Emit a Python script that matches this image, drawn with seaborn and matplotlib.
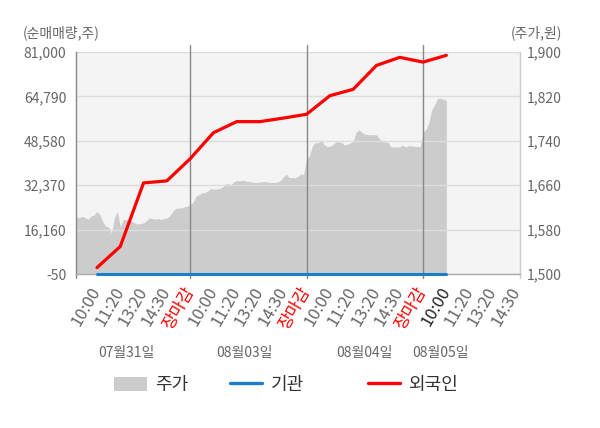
import matplotlib
matplotlib.use('Agg')
import matplotlib.pyplot as plt
import pandas as pd
import seaborn as sns
from matplotlib.patches import Patch
from matplotlib.lines import Line2D

# data
dates = ['07월31일', '08월03일', '08월04일', '08월05일']
times = ['10:00', '11:20', '13:20', '14:30', '장마감']

# share price (won), sampled every ~10 minutes per trading day
price_d1 = [1598, 1602, 1602, 1604, 1601, 1599, 1605, 1606, 1613, 1607,
            1594, 1586, 1585, 1573, 1601, 1613, 1585, 1598, 1598, 1597,
            1595, 1592, 1590, 1591, 1592, 1596, 1601, 1600, 1599, 1600,
            1598, 1600, 1601, 1605, 1613, 1618, 1619, 1619, 1621, 1622]
price_d2 = [1625, 1629, 1640, 1643, 1646, 1647, 1649, 1654, 1653, 1653,
            1654, 1656, 1662, 1663, 1661, 1666, 1668, 1668, 1669, 1668,
            1667, 1666, 1665, 1665, 1666, 1666, 1667, 1665, 1665, 1665,
            1666, 1668, 1675, 1680, 1674, 1674, 1673, 1676, 1680, 1680]
price_d3 = [1707, 1713, 1731, 1737, 1736, 1742, 1733, 1730, 1730, 1733,
            1738, 1738, 1737, 1732, 1734, 1736, 1739, 1755, 1760, 1755,
            1752, 1751, 1751, 1751, 1751, 1744, 1739, 1738, 1737, 1729,
            1729, 1729, 1729, 1732, 1729, 1731, 1731, 1730, 1730, 1729]
price_d4 = [1756, 1760, 1773, 1796, 1805, 1816, 1817, 1815, 1813]

# cumulative net buying (shares) at each labelled time
foreign = [2270, 10010, 33220, 33950, 42020,
           51530, 55580, 55580, 56870, 58270,
           65050, 67370, 76100, 79050, 77310,
           79780]
institution = [0] * 16

sns.set_theme(style='white')
plt.rcParams['font.family'] = ['Noto Sans CJK KR', 'DejaVu Sans']

SPD = 40  # price samples per day
px, py = [], []
for d, day in enumerate([price_d1, price_d2, price_d3, price_d4]):
    for k, v in enumerate(day):
        px.append(d + k / SPD)
        py.append(v)
df_price = pd.DataFrame({'x': px, 'price': py})

lx = [d + k / 5 for d in range(4) for k in range(1, 6)][:len(foreign)]
df_net = pd.DataFrame({'x': lx, 'foreign': foreign, 'inst': institution})

fig = plt.figure(figsize=(6, 4.28), dpi=100)
ax = fig.add_axes([0.1267, 0.3598, 0.74, 0.5187])
ax2 = ax.twinx()

ax.set_facecolor('#f4f4f4')
ax.fill_between(df_price['x'], 1500, df_price['price'], color='#cccccc', lw=0)
ax.set_ylim(1500, 1900)
ax.set_xlim(0.02, 3.833)

sns.lineplot(data=df_net, x='x', y='inst', ax=ax2, color='#1a7ecb', lw=2.2, clip_on=False, zorder=3)
sns.lineplot(data=df_net, x='x', y='foreign', ax=ax2, color='#ff0000', lw=2.3, zorder=4)
ax2.set_ylim(-50, 81000)
ax2.set_xlim(0.02, 3.833)

# ticks
lticks = [-50, 16160, 32370, 48580, 64790, 81000]
rticks = [1500, 1580, 1660, 1740, 1820, 1900]
ax2.set_yticks(lticks)
ax2.set_yticklabels([f'{v:,}' for v in lticks])
ax.set_yticks(rticks)
ax.set_yticklabels([f'{v:,}' for v in rticks])
ax.yaxis.tick_right()
ax2.yaxis.tick_left()
ax2.tick_params(axis='y', length=0, pad=7, labelsize=10, labelcolor='#666666')
ax.tick_params(axis='y', length=0, pad=5, labelsize=10, labelcolor='#666666')
ax2.yaxis.grid(True, color='#dddddd', lw=1)
ax.grid(False)
ax2.set_xlabel('')
ax2.set_ylabel('')

xt = [d + k / 5 for d in range(4) for k in range(1, 6)]
xl = times * 4
keep = [i for i, v in enumerate(xt) if v < 3.84]
xt = [xt[i] for i in keep]
xl = [xl[i] for i in keep]
ax.set_xticks(xt)
ax.set_xticklabels(xl, rotation=60, ha='right', va='center', rotation_mode='anchor')
ax.tick_params(axis='x', length=0, pad=10, labelsize=12, labelcolor='#666666')
for i, lab in enumerate(ax.get_xticklabels()):
    if lab.get_text() == '장마감':
        lab.set_color('#ff0000')
    elif i == 15:
        lab.set_color('#222222')

# day separators and edge ticks
for d in [1, 2, 3]:
    ax2.plot([d, d], [-0.02, 1.03], transform=ax2.get_xaxis_transform(),
             color='#888888', lw=1, clip_on=False, zorder=1.5)
for xe, c in [(0.02, '#888888'), (3.833, '#cccccc')]:
    ax2.plot([xe, xe], [-0.02, 0], transform=ax2.get_xaxis_transform(),
             color=c, lw=1, clip_on=False)

for s in ax.spines.values():
    s.set_visible(False)
ax2.spines['top'].set_visible(False)
ax2.spines['left'].set_color('#888888')
ax2.spines['right'].set_color('#cccccc')
ax2.spines['bottom'].set_color('#aaaaaa')
for s in ['left', 'right', 'bottom']:
    ax2.spines[s].set_linewidth(1)

# date labels under the time labels
for xd, t in zip([0.45, 1.47, 2.5, 3.15], dates):
    ax.text(xd, -0.356, t, transform=ax.get_xaxis_transform(), ha='center',
            va='center', fontsize=10, color='#666666')

fig.text(0.038, 0.923, '(순매매량,주)', fontsize=10, color='#666666', va='center')
fig.text(0.937, 0.923, '(주가,원)', fontsize=10, color='#666666', va='center', ha='right')

# legend
items = [
    (Patch(facecolor='#cccccc', edgecolor='none'), '주가', 0.19),
    (Line2D([], [], color='#1a7ecb', lw=2.4), '기관', 0.383),
    (Line2D([], [], color='#ff0000', lw=2.4), '외국인', 0.613),
]
for h, lab, xpos in items:
    fig.legend([h], [lab], loc='center left', bbox_to_anchor=(xpos, 0.1005),
               frameon=False, fontsize=13, handlelength=1.8, handleheight=0.85,
               handletextpad=0.45, borderpad=0, borderaxespad=0, labelcolor='#333333')

fig.savefig('out.png', dpi=100)
